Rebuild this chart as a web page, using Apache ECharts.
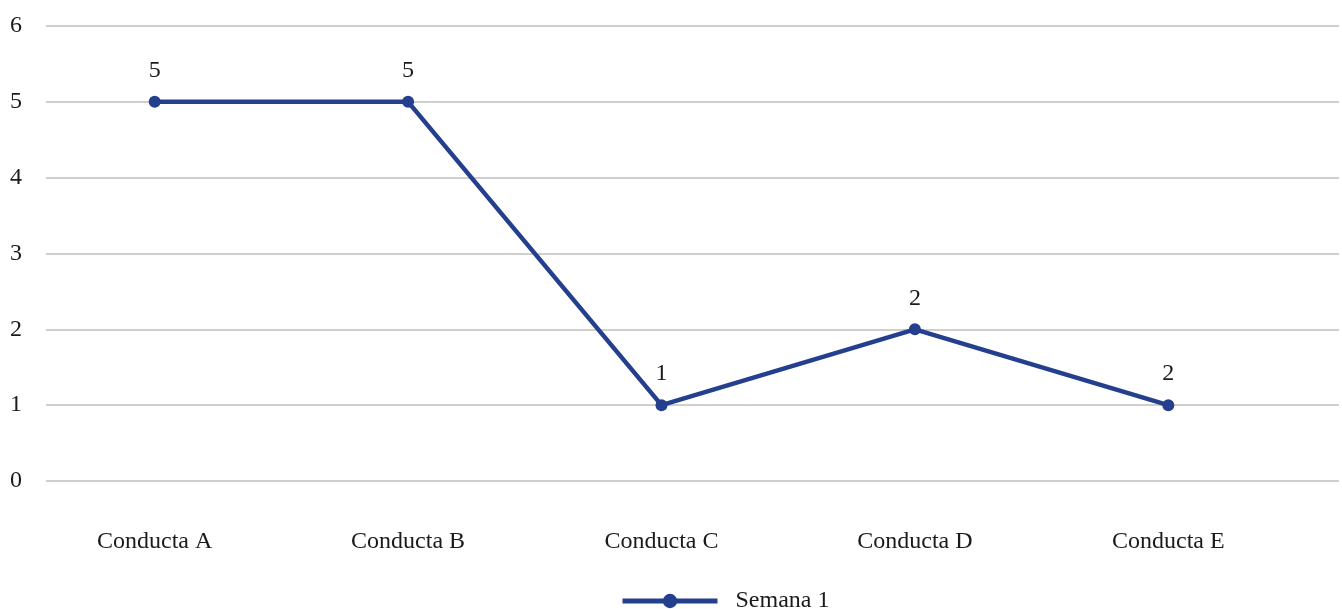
<!DOCTYPE html>
<html><head><meta charset="utf-8">
<script src="https://cdn.jsdelivr.net/npm/echarts@6/dist/echarts.min.js"></script>
<style>html,body{margin:0;padding:0;background:#fff}#c{width:1342px;height:609px}</style>
</head><body><div id="c"></div>
<script>
const categories = ['Conducta A','Conducta B','Conducta C','Conducta D','Conducta E'];
const semana1 = [5, 5, 1, 2, 1];
const pointLabels = ['5','5','1','2','2'];
const yTicks = [0,1,2,3,4,5,6];
const seriesName = 'Semana 1';
const font = 'Liberation Serif';
const blue = '#253f8f';
const txt = '#1a1a1a';
const chart = echarts.init(document.getElementById('c'));
chart.setOption({
  animation: false,
  textStyle: {fontFamily: font},
  grid: [
    {left: 46, right: 3, top: 26, bottom: 128},
    {left: 28, right: 47, top: 26, bottom: 128}
  ],
  legend: {
    data: [seriesName], left: 615, top: 584, itemWidth: 95, itemHeight: 18, itemGap: 18,
    lineStyle: {width: 5, color: blue}, itemStyle: {color: blue},
    textStyle: {fontFamily: font, fontSize: 24, color: txt, padding: [0, 0, 0, 13]}
  },
  xAxis: [
    {type: 'value', gridIndex: 0, show: false, min: 0, max: 1},
    {type: 'category', gridIndex: 1, data: categories, boundaryGap: true,
     axisLine: {show: false}, axisTick: {show: false},
     axisLabel: {margin: 49, fontFamily: font, fontSize: 24, color: txt}}
  ],
  yAxis: [
    {type: 'value', gridIndex: 0, min: 0, max: 6, interval: 1,
     axisLine: {show: false}, axisTick: {show: false},
     axisLabel: {margin: 24, fontFamily: font, fontSize: 24, color: txt,
       formatter: v => yTicks.includes(v) ? String(v) : ''},
     splitLine: {lineStyle: {color: '#bfbfbf', width: 1.5}}},
    {type: 'value', gridIndex: 1, min: 0, max: 6, interval: 1, show: false, splitLine: {show: false}}
  ],
  series: [{
    name: seriesName, type: 'line', xAxisIndex: 1, yAxisIndex: 1, data: semana1,
    symbol: 'circle', symbolSize: 12,
    lineStyle: {color: blue, width: 4.5}, itemStyle: {color: blue},
    label: {show: true, position: 'top', distance: 13, fontFamily: font, fontSize: 24, color: txt,
      formatter: p => pointLabels[p.dataIndex]}
  }]
});
</script></body></html>
